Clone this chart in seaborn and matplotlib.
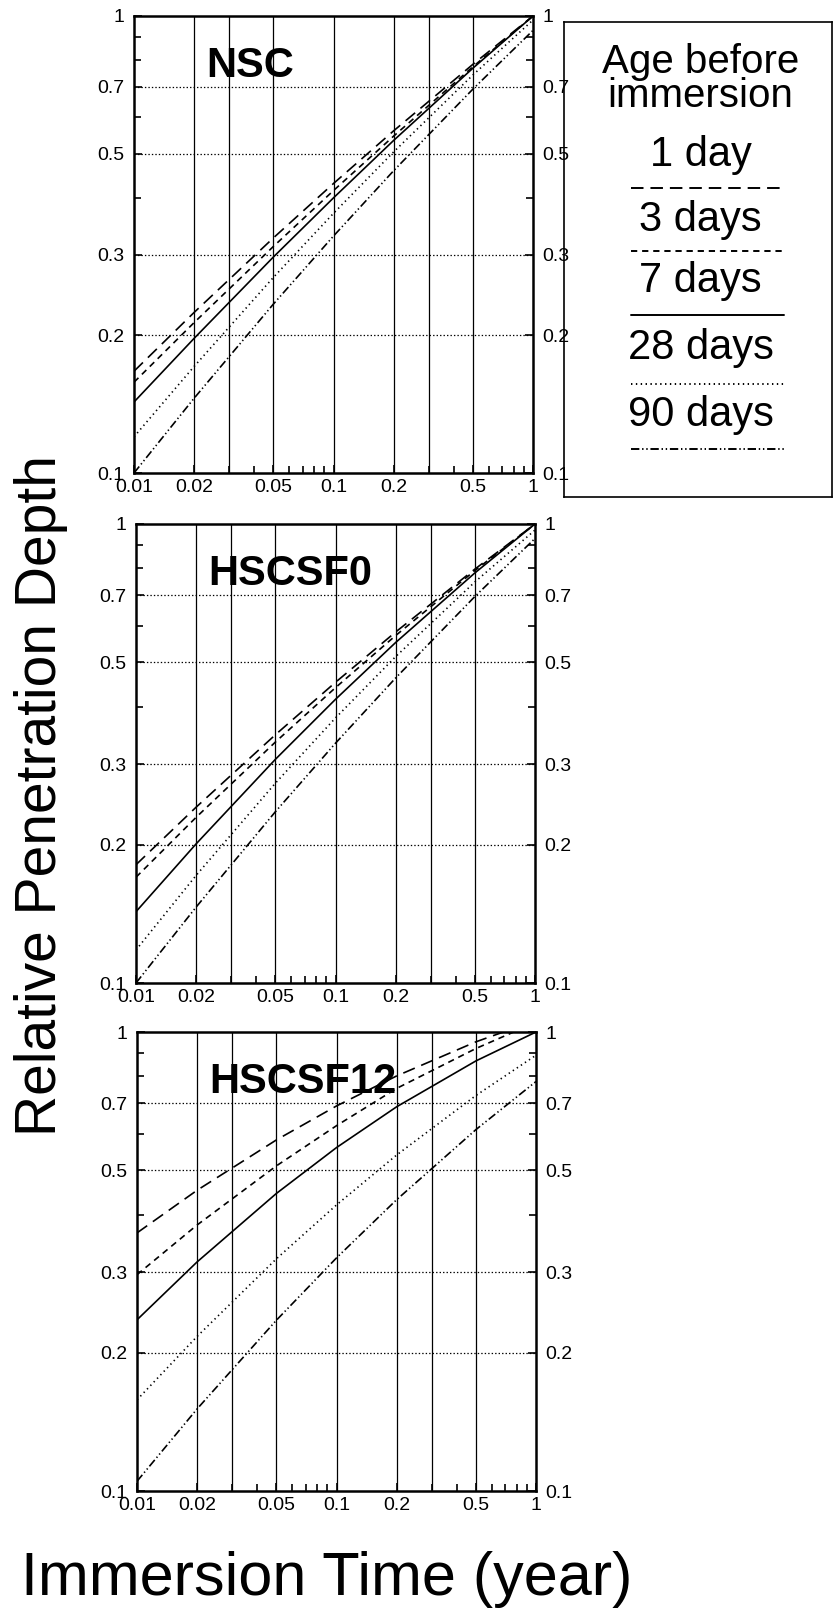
import numpy as np
import pandas as pd
import matplotlib
matplotlib.use("Agg")
import matplotlib.pyplot as plt
import seaborn as sns
from matplotlib.ticker import FixedLocator, FixedFormatter, NullFormatter

# immersion time (year) at which curves were read
t_years = [0.01, 0.02, 0.05, 0.1, 0.2, 0.5, 1.0]
ages = ["1 day", "3 days", "7 days", "28 days", "90 days"]

# relative penetration depth, NSC
nsc_1d = [0.167, 0.2245, 0.327, 0.43, 0.5605, 0.784, 1.0]
nsc_3d = [0.158, 0.2133, 0.3132, 0.415, 0.5457, 0.7744, 1.0]
nsc_7d = [0.143, 0.197, 0.297, 0.40, 0.534, 0.769, 1.0]
nsc_28d = [0.12, 0.171, 0.268, 0.37, 0.504, 0.743, 0.98]
nsc_90d = [0.10, 0.1457, 0.2343, 0.33, 0.4584, 0.692, 0.93]

# HSCSF0
hscsf0_1d = [0.181, 0.2415, 0.3475, 0.452, 0.5815, 0.7977, 1.0]
hscsf0_3d = [0.17, 0.2295, 0.335, 0.44, 0.5712, 0.792, 1.0]
hscsf0_7d = [0.143, 0.2009, 0.3072, 0.415, 0.5516, 0.7826, 1.0]
hscsf0_28d = [0.118, 0.1715, 0.2726, 0.378, 0.5139, 0.7479, 0.97]
hscsf0_90d = [0.10, 0.1463, 0.2362, 0.333, 0.4617, 0.6953, 0.93]

# HSCSF12
hscsf12_1d = [0.365, 0.452, 0.582, 0.69, 0.802, 0.952, 1.06]
hscsf12_3d = [0.296, 0.3797, 0.511, 0.625, 0.7534, 0.9206, 1.05]
hscsf12_7d = [0.236, 0.3155, 0.445, 0.56, 0.687, 0.865, 1.0]
hscsf12_28d = [0.158, 0.2171, 0.3206, 0.42, 0.5393, 0.7273, 0.89]
hscsf12_90d = [0.105, 0.1509, 0.2356, 0.322, 0.431, 0.6129, 0.78]

panels = [
    ("NSC", [nsc_1d, nsc_3d, nsc_7d, nsc_28d, nsc_90d]),
    ("HSCSF0", [hscsf0_1d, hscsf0_3d, hscsf0_7d, hscsf0_28d, hscsf0_90d]),
    ("HSCSF12", [hscsf12_1d, hscsf12_3d, hscsf12_7d, hscsf12_28d, hscsf12_90d]),
]

x_ticks = [0.01, 0.02, 0.05, 0.1, 0.2, 0.5, 1]
x_labels = ["0.01", "0.02", "0.05", "0.1", "0.2", "0.5", "1"]
x_minor = [0.03, 0.04, 0.06, 0.07, 0.08, 0.09, 0.3, 0.4, 0.6, 0.7, 0.8, 0.9]
y_ticks = [0.1, 0.2, 0.3, 0.5, 0.7, 1]
y_labels = ["0.1", "0.2", "0.3", "0.5", "0.7", "1"]
y_minor = [0.4, 0.6, 0.8, 0.9]
x_grid = [0.02, 0.03, 0.05, 0.1, 0.2, 0.3, 0.5]
y_grid = [0.2, 0.3, 0.5, 0.7]

dash_map = {"1 day": (9, 5), "3 days": (4.5, 3.5), "7 days": "",
            "28 days": (1, 2.5), "90 days": (6, 2, 1, 2, 1, 2)}

sns.set_style("ticks")
plt.rcParams['font.family'] = ['Liberation Sans', 'DejaVu Sans']
plt.rcParams['lines.scale_dashes'] = False
for key in ["text.color", "axes.labelcolor", "xtick.color", "ytick.color",
            "axes.edgecolor"]:
    plt.rcParams[key] = "black"

fig = plt.figure(figsize=(8.35, 16.19), dpi=100)

# axes boxes in pixels: left, top, right, bottom
boxes = [(134, 16, 533, 473), (136, 524, 535, 983), (137, 1032, 536, 1491)]
W, H = 835, 1619

for (name, series), (l, t, r, b) in zip(panels, boxes):
    ax = fig.add_axes([l / W, 1 - b / H, (r - l) / W, (b - t) / H])
    df = pd.DataFrame({
        "t": t_years * len(ages),
        "depth": np.concatenate(series),
        "age": np.repeat(ages, len(t_years)),
    })
    ax.set_xscale("log")
    ax.set_yscale("log")
    for xv in x_grid:
        ax.axvline(xv, color="black", lw=0.9, zorder=1)
    for yv in y_grid:
        ax.axhline(yv, color="black", lw=0.9, dashes=(1, 1.5), zorder=1)
    sns.lineplot(data=df, x="t", y="depth", style="age", style_order=ages,
                 dashes=dash_map, color="black", lw=1.2, legend=False,
                 estimator=None, ax=ax, zorder=3)
    ax.set_xlim(0.01, 1)
    ax.set_ylim(0.1, 1)
    ax.xaxis.set_major_locator(FixedLocator(x_ticks))
    ax.xaxis.set_major_formatter(FixedFormatter(x_labels))
    ax.xaxis.set_minor_locator(FixedLocator(x_minor))
    ax.xaxis.set_minor_formatter(NullFormatter())
    ax.yaxis.set_major_locator(FixedLocator(y_ticks))
    ax.yaxis.set_major_formatter(FixedFormatter(y_labels))
    ax.yaxis.set_minor_locator(FixedLocator(y_minor))
    ax.yaxis.set_minor_formatter(NullFormatter())
    ax.tick_params(axis="both", which="both", direction="in", top=False,
                   right=True, labelright=True, labelsize=14, width=1.2,
                   colors="black")
    ax.tick_params(axis="both", which="major", length=6)
    ax.tick_params(axis="both", which="minor", length=5)
    ax.tick_params(axis="x", pad=4)
    ax.tick_params(axis="y", pad=6)
    for lab in ax.get_yticklabels(which="major"):
        pass
    ax.yaxis.set_tick_params(which="major", pad=7)
    ax.set_xlabel("")
    ax.set_ylabel("")
    for s in ax.spines.values():
        s.set_linewidth(1.8)
        s.set_color("black")
    ax.text(0.18, 0.89, name, transform=ax.transAxes, fontsize=30,
            fontweight="bold", ha="left", va="center", zorder=2)

# legend box
lax = fig.add_axes([564 / W, 1 - 497 / H, (832 - 564) / W, (497 - 22) / H])
lax.patch.set_visible(False)
lax.set_xlim(0, 1)
lax.set_ylim(0, 1)
lax.set_xticks([])
lax.set_yticks([])
for s in lax.spines.values():
    s.set_linewidth(1.2)
    s.set_color("black")
lax.text(0.51, 0.88, "Age before\nimmersion", ha="center", va="center",
         fontsize=29, linespacing=0.85)
label_y = [0.72, 0.583, 0.455, 0.314, 0.173]
line_y = [0.65, 0.518, 0.383, 0.238, 0.101]
for age, ty, ly in zip(ages, label_y, line_y):
    lax.text(0.51, ty, age, ha="center", va="center", fontsize=30)
    d = dash_map[age]
    if d == "":
        lax.plot([0.25, 0.82], [ly, ly], color="black", lw=1.4)
    else:
        lax.plot([0.25, 0.82], [ly, ly], color="black", lw=1.4, dashes=d)

fig.text(41 / W, 1 - 795 / H, "Relative Penetration Depth", rotation=90,
         ha="center", va="center", fontsize=41)
fig.text(21 / W, 1 - 1579 / H, "Immersion Time (year)", ha="left",
         va="center", fontsize=44)

fig.savefig("out.png", dpi=100, facecolor="white")
